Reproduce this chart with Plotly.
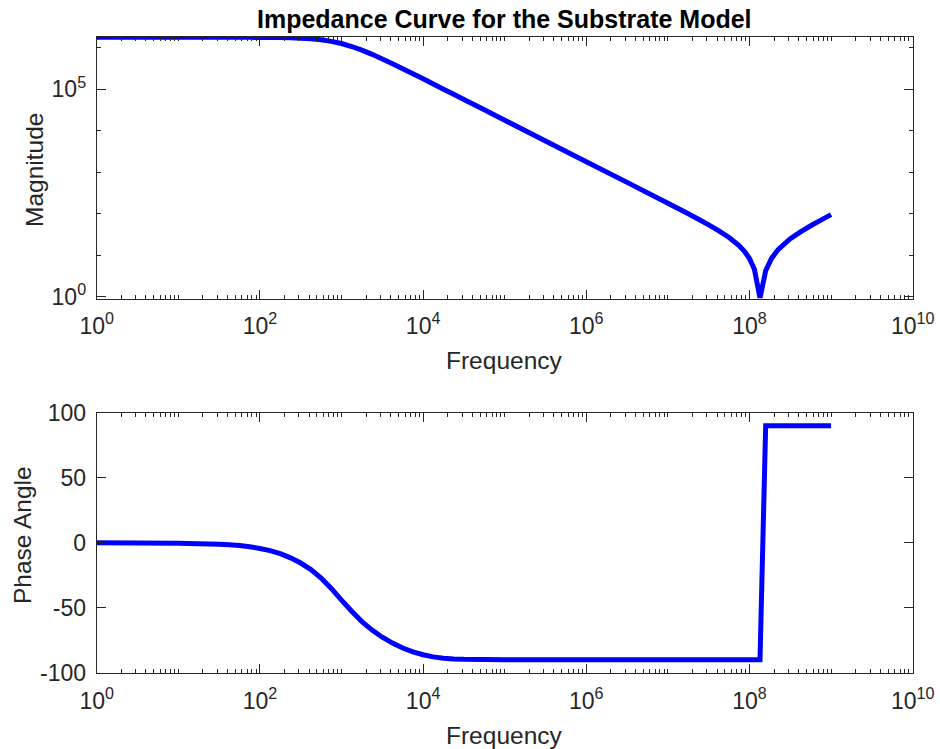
import plotly.graph_objects as go

# ---- data ----
freq_hz = [1, 3.162, 10, 17.78, 31.62, 42.17, 56.23, 74.99, 100, 133.4, 177.8,
           237.1, 316.2, 421.7, 562.3, 749.9, 1000, 1334, 1778, 2371, 3162, 4217,
           5623, 7499, 1e4, 1.334e4, 1.778e4, 2.371e4, 3.162e4, 5.623e4, 1e5,
           3.162e5, 1e6, 3.162e6, 1e7, 1.334e7, 1.778e7, 2.371e7, 3.162e7,
           4.217e7, 5.623e7, 7.499e7, 8.71e7, 1e8, 1.148e8, 1.345e8, 1.578e8,
           1.862e8, 2.239e8, 3.162e8, 4.217e8, 5.623e8, 7.499e8, 1e9]

magnitude = [1.799e6, 1.799e6, 1.799e6, 1.799e6, 1.799e6, 1.798e6, 1.796e6,
             1.794e6, 1.791e6, 1.782e6, 1.770e6, 1.750e6, 1.714e6, 1.656e6,
             1.567e6, 1.439e6, 1.274e6, 1.079e6, 8.81e5, 7.00e5, 5.42e5, 4.15e5,
             3.15e5, 2.377e5, 1.791e5, 1.346e5, 1.009e5, 7.58e4, 5.69e4, 3.20e4,
             1.80e4, 5.69e3, 1.80e3, 569, 179, 133.6, 99.5, 73.6, 53.9, 38.6,
             26.6, 16.8, 12.2, 8.32, 4.57, 0.92, 4.2, 8.35, 13.6, 24.9, 36.5,
             51.2, 70.2, 95]

phase_deg = [0, -0.1, -0.3, -0.6, -1.0, -1.4, -2.0, -3.0, -4.3, -6.0, -8.3,
             -11.5, -15.5, -20.5, -27, -35, -44, -52.5, -60.5, -67, -72.5, -77,
             -80.8, -83.8, -86.0, -87.6, -88.6, -89.2, -89.5, -89.7, -89.8,
             -89.9, -89.9, -89.9, -89.9, -89.9, -89.9, -89.9, -89.9, -89.9,
             -89.9, -89.9, -89.9, -89.9, -89.9, -89.9, 89.9, 89.9, 89.9, 89.9,
             89.9, 89.9, 89.9, 89.9]

x_tick_vals = [1, 1e2, 1e4, 1e6, 1e8, 1e10]
x_tick_text = ["10<sup>0</sup>", "10<sup>2</sup>", "10<sup>4</sup>",
               "10<sup>6</sup>", "10<sup>8</sup>", "10<sup>10</sup>"]
mag_tick_vals = [1, 1e5]
mag_tick_text = ["10<sup>0</sup>", "10<sup>5</sup>"]
mag_minor_vals = [10, 100, 1e3, 1e4, 1e6]
ph_tick_vals = [-100, -50, 0, 50, 100]
ph_tick_text = ["-100", "-50", "0", "50", "100"]

x_minor_vals = []
for d in range(10):
    for m in range(2, 10):
        x_minor_vals.append(m * 10 ** d)
    if d % 2 == 1:
        x_minor_vals.append(10 ** d)

FONT = "Liberation Sans, Arial, Helvetica, sans-serif"
AX = "#262626"

fig = go.Figure()
fig.add_trace(go.Scatter(x=freq_hz, y=magnitude, mode="lines",
                         line=dict(color="#0000FF", width=5, simplify=False),
                         xaxis="x", yaxis="y", showlegend=False))
fig.add_trace(go.Scatter(x=freq_hz, y=phase_deg, mode="lines",
                         line=dict(color="#0000FF", width=5, simplify=False),
                         xaxis="x2", yaxis="y2", showlegend=False))

base = dict(showline=True, linecolor=AX, linewidth=1, mirror="ticks",
            ticks="inside", tickcolor=AX, tickwidth=1, ticklen=9,
            showgrid=False, zeroline=False, automargin=False,
            tickfont=dict(family=FONT, size=23, color=AX))

xdom = [96.7 / 940, 912.7 / 940]
xminor = dict(tickmode="array", tickvals=x_minor_vals, ticks="inside",
              ticklen=4, tickcolor=AX, showgrid=False)

fig.update_layout(
    width=940, height=749,
    margin=dict(l=0, r=0, t=0, b=0),
    paper_bgcolor="white", plot_bgcolor="white",
    xaxis=dict(base, type="log", range=[0, 10], domain=xdom, anchor="y",
               tickmode="array", tickvals=x_tick_vals, ticktext=x_tick_text,
               ticklabelstandoff=7, minor=xminor),
    yaxis=dict(base, type="log", range=[-0.046, 6.27],
               domain=[1 - 298.5 / 749, 1 - 36.7 / 749], anchor="x",
               tickmode="array", tickvals=mag_tick_vals, ticktext=mag_tick_text,
               ticklabelstandoff=5,
               minor=dict(tickmode="array", tickvals=mag_minor_vals, ticks="inside",
                          ticklen=4, tickcolor=AX, showgrid=False)),
    xaxis2=dict(base, type="log", range=[0, 10], domain=xdom, anchor="y2",
                tickmode="array", tickvals=x_tick_vals, ticktext=x_tick_text,
                ticklabelstandoff=7, minor=xminor),
    yaxis2=dict(base, range=[-100, 100],
                domain=[1 - 673 / 749, 1 - 412.7 / 749], anchor="x2",
                tickmode="array", tickvals=ph_tick_vals, ticktext=ph_tick_text,
                ticklabelstandoff=5),
    annotations=[
        dict(text="<b>Impedance Curve for the Substrate Model</b>", x=504.7 / 940,
             y=1 - 19 / 749, xref="paper", yref="paper", showarrow=False,
             xanchor="center", yanchor="middle",
             font=dict(family=FONT, size=25, color="black")),
        dict(text="Magnitude", x=34 / 940, y=1 - 170 / 749, xref="paper",
             yref="paper", showarrow=False, textangle=-90, xanchor="center",
             yanchor="middle", font=dict(family=FONT, size=24.5, color=AX)),
        dict(text="Frequency", x=504.7 / 940, y=1 - 360 / 749, xref="paper",
             yref="paper", showarrow=False, xanchor="center", yanchor="middle",
             font=dict(family=FONT, size=24.5, color=AX)),
        dict(text="Phase Angle", x=22 / 940, y=1 - 535 / 749, xref="paper",
             yref="paper", showarrow=False, textangle=-90, xanchor="center",
             yanchor="middle", font=dict(family=FONT, size=24.5, color=AX)),
        dict(text="Frequency", x=504.7 / 940, y=1 - 735 / 749, xref="paper",
             yref="paper", showarrow=False, xanchor="center", yanchor="middle",
             font=dict(family=FONT, size=24.5, color=AX)),
    ],
)

fig.write_html("out.html", config={"displayModeBar": False},
               post_script="document.body.style.margin='0';document.body.style.overflow='hidden';")
